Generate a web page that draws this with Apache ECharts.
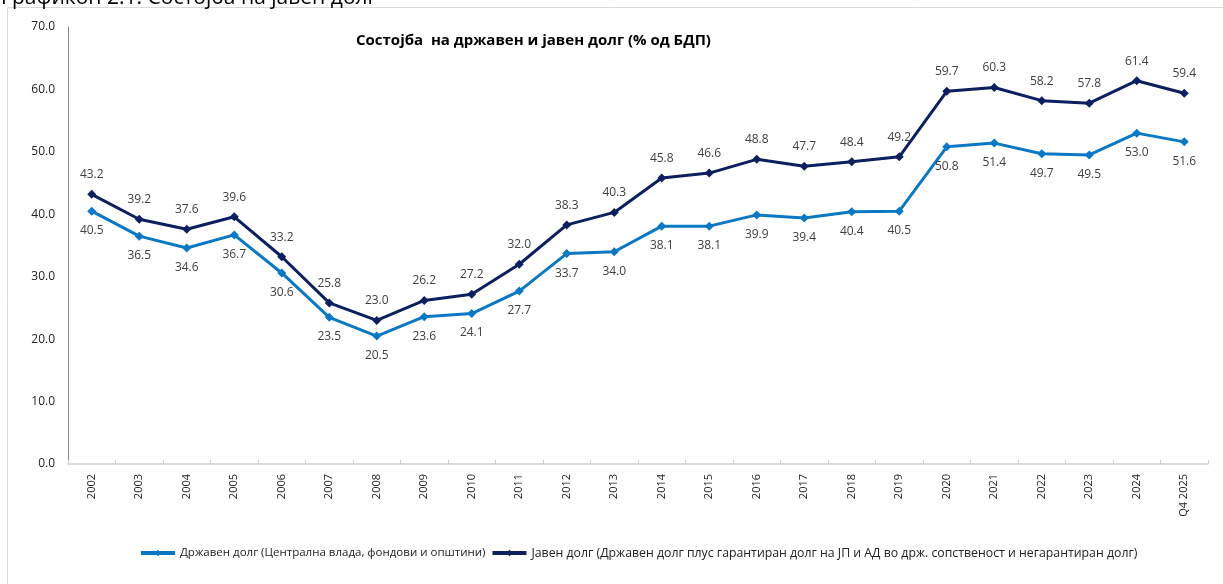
<!DOCTYPE html>
<html>
<head>
<meta charset="utf-8">
<title>Состојба на државен и јавен долг</title>
<script src="https://cdn.jsdelivr.net/npm/echarts@6/dist/echarts.min.js"></script>
<style>
    html, body { margin: 0; padding: 0; background: #fff; }
    #chart { width: 1223px; height: 584px; }
</style>
</head>
<body>
<div id="chart"></div>
<script>
// податоци
var years = ['2002', '2003', '2004', '2005', '2006', '2007', '2008', '2009', '2010', '2011', '2012', '2013',
    '2014', '2015', '2016', '2017', '2018', '2019', '2020', '2021', '2022', '2023', '2024', 'Q4 2025'];
var drzavenDolg = [40.5, 36.5, 34.6, 36.7, 30.6, 23.5, 20.5, 23.6, 24.1, 27.7, 33.7, 34.0,
    38.1, 38.1, 39.9, 39.4, 40.4, 40.5, 50.8, 51.4, 49.7, 49.5, 53.0, 51.6];
var javenDolg = [43.2, 39.2, 37.6, 39.6, 33.2, 25.8, 23.0, 26.2, 27.2, 32.0, 38.3, 40.3,
    45.8, 46.6, 48.8, 47.7, 48.4, 49.2, 59.7, 60.3, 58.2, 57.8, 61.4, 59.4];
var seriesNames = ['Државен долг (Централна влада, фондови и општини)',
    'Јавен долг (Државен долг плус гарантиран долг на ЈП и АД во држ. сопственост и негарантиран долг)'];

var FONT = '"Open Sans", "Noto Sans", sans-serif';

init();

function init() {
    var myChart = echarts.init(document.getElementById('chart'));
    var option = {
        color: ['#0a78c2', '#0c1f5e'],
        textStyle: { fontFamily: FONT },
        animation: false,
        title: {
            text: 'Состојба  на државен и јавен долг (% од БДП)',
            left: 351,
            top: 28,
            textStyle: { fontSize: 15, fontWeight: 'bold', color: '#000', fontFamily: FONT }
        },
        graphic: [
            {
                type: 'rect',
                shape: { x: 7.5, y: 7.5, width: 1400, height: 800 },
                style: { fill: 'none', stroke: '#d9d9d9', lineWidth: 1 },
                silent: true
            },
            {
                type: 'text',
                left: 1,
                top: -12,
                style: { text: 'Графикон 2.1: Состојба на јавен долг', fill: '#000', font: '21px ' + FONT },
                silent: true
            }
        ],
        legend: {
            data: [
                { name: seriesNames[0], textStyle: { fontSize: 11.5 } },
                { name: seriesNames[1], textStyle: { fontSize: 12.3 } }
            ],
            bottom: 20,
            left: 134,
            itemWidth: 34,
            itemHeight: 8,
            itemGap: 5,
            lineStyle: { width: 4 },
            textStyle: { fontSize: 12, color: '#222', fontFamily: FONT }
        },
        grid: {
            left: 68,
            right: 15,
            top: 27,
            bottom: 120,
            containLabel: false
        },
        xAxis: {
            type: 'category',
            data: years,
            boundaryGap: true,
            axisLine: { lineStyle: { color: '#d0d0d0', width: 1.5 } },
            axisTick: { show: true, inside: true, length: 4, lineStyle: { color: '#d0d0d0' } },
            axisLabel: { rotate: 90, fontSize: 11, color: '#222', margin: 10 }
        },
        yAxis: {
            type: 'value',
            min: 0,
            max: 70,
            interval: 10,
            axisLine: { show: true, lineStyle: { color: '#888', width: 1 } },
            axisTick: { show: false },
            splitLine: { show: false },
            axisLabel: {
                fontSize: 12, color: '#222', margin: 13,
                formatter: function (v) { return v.toFixed(1); }
            }
        },
        series: [
            {
                name: seriesNames[0],
                type: 'line',
                data: drzavenDolg,
                symbol: 'diamond',
                symbolSize: 9,
                lineStyle: { width: 3 },
                label: {
                    show: true, position: 'bottom', distance: 9,
                    fontSize: 12, color: '#404040',
                    formatter: function (p) { return p.value.toFixed(1); }
                }
            },
            {
                name: seriesNames[1],
                type: 'line',
                data: javenDolg,
                symbol: 'diamond',
                symbolSize: 9,
                lineStyle: { width: 3 },
                label: {
                    show: true, position: 'top', distance: 9,
                    fontSize: 12, color: '#404040',
                    formatter: function (p) { return p.value.toFixed(1); }
                }
            }
        ]
    };
    myChart.setOption(option);
}
</script>
</body>
</html>
